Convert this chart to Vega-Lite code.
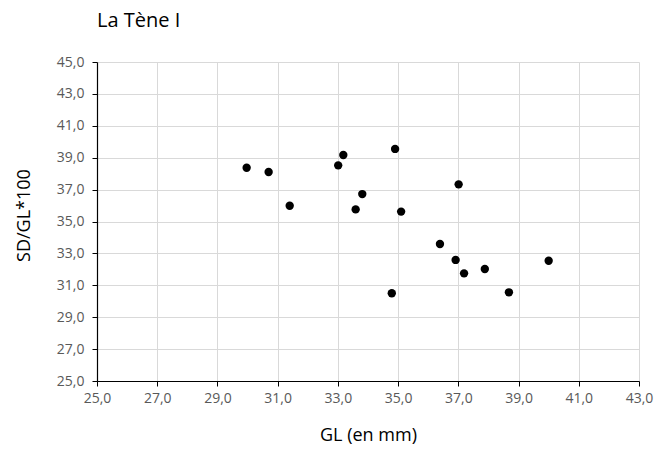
{
  "$schema": "https://vega.github.io/schema/vega-lite/v6.json",
  "autosize": {"type": "none"},
  "padding": {"left": 97, "top": 62, "right": 31, "bottom": 69},
  "width": 542,
  "height": 319,
  "background": "white",
  "title": {
    "text": "La Tène I",
    "anchor": "start",
    "frame": "group",
    "font": "Open Sans",
    "fontSize": 20,
    "fontWeight": "normal",
    "color": "#000000",
    "baseline": "alphabetic",
    "offset": 8
  },
  "config": {
    "view": {"stroke": null},
    "axis": {
      "labelFont": "Open Sans",
      "titleFont": "Open Sans",
      "labelFontSize": 14,
      "labelColor": "#595959",
      "titleFontSize": 18,
      "titleFontWeight": "normal",
      "titleColor": "#000000",
      "gridColor": "#d9d9d9",
      "gridWidth": 1,
      "domainColor": "#000000",
      "domainWidth": 1.2,
      "tickColor": "#000000",
      "tickSize": 5
    }
  },
  "data": {
    "values": [
      {"GL": 29.97, "ratio": 38.37},
      {"GL": 30.70, "ratio": 38.10},
      {"GL": 31.40, "ratio": 35.99},
      {"GL": 33.01, "ratio": 38.52},
      {"GL": 33.18, "ratio": 39.17},
      {"GL": 33.59, "ratio": 35.76},
      {"GL": 33.81, "ratio": 36.72},
      {"GL": 34.79, "ratio": 30.50},
      {"GL": 34.90, "ratio": 39.55},
      {"GL": 35.10, "ratio": 35.62},
      {"GL": 36.39, "ratio": 33.59},
      {"GL": 36.91, "ratio": 32.59},
      {"GL": 37.01, "ratio": 37.33},
      {"GL": 37.19, "ratio": 31.75},
      {"GL": 37.88, "ratio": 32.02},
      {"GL": 38.68, "ratio": 30.56},
      {"GL": 40.00, "ratio": 32.54}
    ]
  },
  "mark": {"type": "circle", "size": 70, "color": "#000000", "opacity": 1},
  "encoding": {
    "x": {
      "field": "GL",
      "type": "quantitative",
      "scale": {"domain": [25, 43], "nice": false, "zero": false},
      "axis": {
        "title": "GL (en mm)",
        "values": [25, 27, 29, 31, 33, 35, 37, 39, 41, 43],
        "labelExpr": "replace(format(datum.value, '.1f'), '.', ',')",
        "labelFlush": false,
        "labelPadding": 5,
        "titlePadding": 21
      }
    },
    "y": {
      "field": "ratio",
      "type": "quantitative",
      "scale": {"domain": [25, 45], "nice": false, "zero": false},
      "axis": {
        "title": "SD/GL*100",
        "values": [25, 27, 29, 31, 33, 35, 37, 39, 41, 43, 45],
        "labelExpr": "replace(format(datum.value, '.1f'), '.', ',')",
        "labelFlush": false,
        "labelPadding": 8,
        "titlePadding": 23,
        "titleY": 153
      }
    }
  }
}
